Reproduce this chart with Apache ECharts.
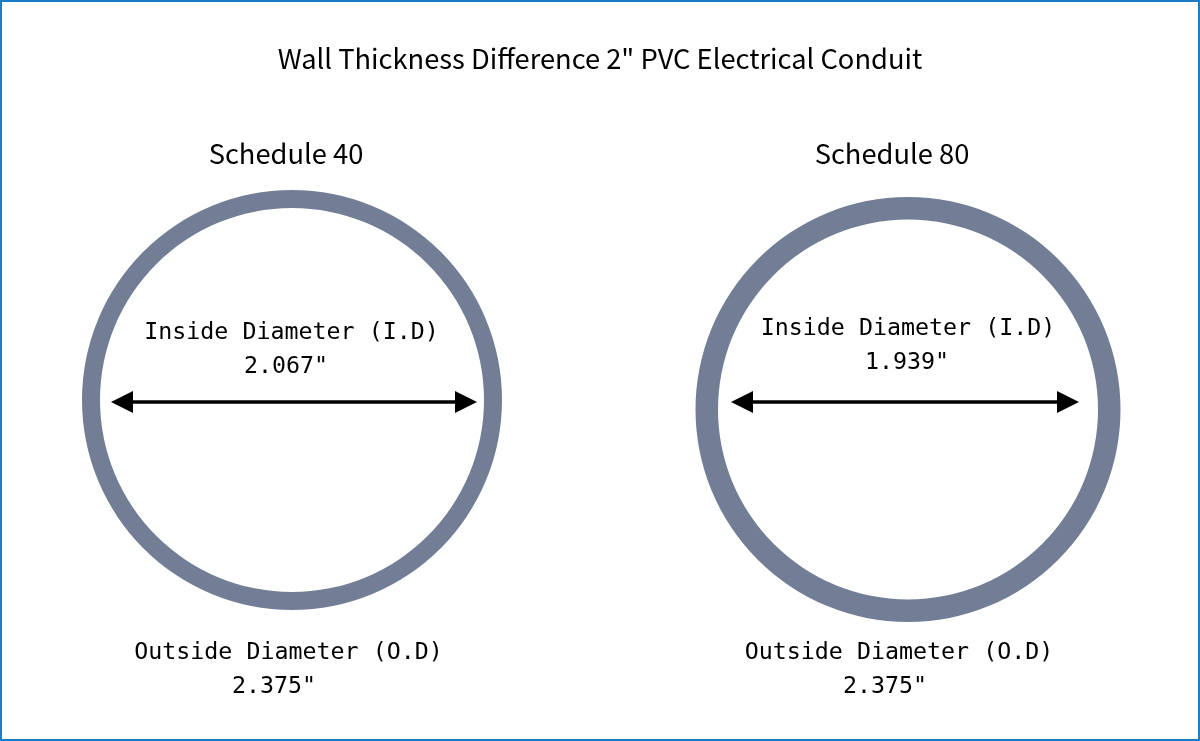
<!DOCTYPE html>
<html>
<head>
<meta charset="utf-8">
<style>
html, body { margin: 0; padding: 0; background: #fff; }
#main { width: 1200px; height: 741px; }
</style>
<script src="https://cdn.jsdelivr.net/npm/echarts@6/dist/echarts.min.js"></script>
</head>
<body>
<div id="main"></div>
<script>
// data
var chartTitle = 'Wall Thickness Difference 2" PVC Electrical Conduit';
var schedules = ['Schedule 40', 'Schedule 80'];
var insideDiameters = ['2.067"', '1.939"'];
var outsideDiameters = ['2.375"', '2.375"'];
var insideLabel = 'Inside Diameter (I.D)';
var outsideLabel = 'Outside Diameter (O.D)';

var ringColor = '#717e96';
var sansFont = '"Noto Sans CJK SC", "Noto Sans", sans-serif';
var monoFont = '"DejaVu Sans Mono", monospace';

// layout of the two pipes, in pixels
var rings = [
    { center: [292, 400], radius: [192, 210], head: [286, 154], inside: [291.5, 333], insideVal: [286, 367], outside: [288.5, 653], outsideVal: [274, 687], arrow: [[122, 402], [466, 402]] },
    { center: [908, 409.5], radius: [190, 212.5], head: [892, 154], inside: [908, 329], insideVal: [907, 363], outside: [899, 653], outsideVal: [885, 687], arrow: [[742, 402], [1068, 402]] }
];

function text(x, y, str, size, font) {
    return {
        type: 'text',
        x: x,
        y: y,
        silent: true,
        style: { text: str, x: 0, y: 0, fill: '#000', font: size + 'px ' + font, align: 'center', verticalAlign: 'middle' }
    };
}

var series = [];
var graphics = [
    { type: 'rect', shape: { x: 1, y: 1, width: 1198, height: 739 }, style: { fill: '#fff', stroke: '#1a7cc7', lineWidth: 2 }, silent: true, z: -1 },
    text(600, 59, chartTitle, 27.3, sansFont)
];

rings.forEach(function (r, i) {
    series.push({
        type: 'pie',
        center: r.center,
        radius: r.radius,
        silent: true,
        label: { show: false },
        labelLine: { show: false },
        itemStyle: { color: ringColor },
        data: [{ name: schedules[i], value: 1 }]
    });
    series.push({
        type: 'lines',
        coordinateSystem: 'cartesian2d',
        silent: true,
        symbol: ['triangle', 'triangle'],
        symbolSize: 22,
        lineStyle: { color: '#000', width: 3.5, opacity: 1, curveness: 0 },
        data: [{ coords: r.arrow }]
    });
    graphics.push(text(r.head[0], r.head[1], schedules[i], 27.3, sansFont));
    graphics.push(text(r.inside[0], r.inside[1], insideLabel, 23.3, monoFont));
    graphics.push(text(r.insideVal[0], r.insideVal[1], insideDiameters[i], 23.3, monoFont));
    graphics.push(text(r.outside[0], r.outside[1], outsideLabel, 23.3, monoFont));
    graphics.push(text(r.outsideVal[0], r.outsideVal[1], outsideDiameters[i], 23.3, monoFont));
});

var myChart = echarts.init(document.getElementById('main'));
myChart.setOption({
    animation: false,
    grid: { left: 0, right: 0, top: 0, bottom: 0 },
    xAxis: { type: 'value', min: 0, max: 1200, show: false },
    yAxis: { type: 'value', min: 0, max: 741, inverse: true, show: false },
    graphic: graphics,
    series: series
});
</script>
</body>
</html>
